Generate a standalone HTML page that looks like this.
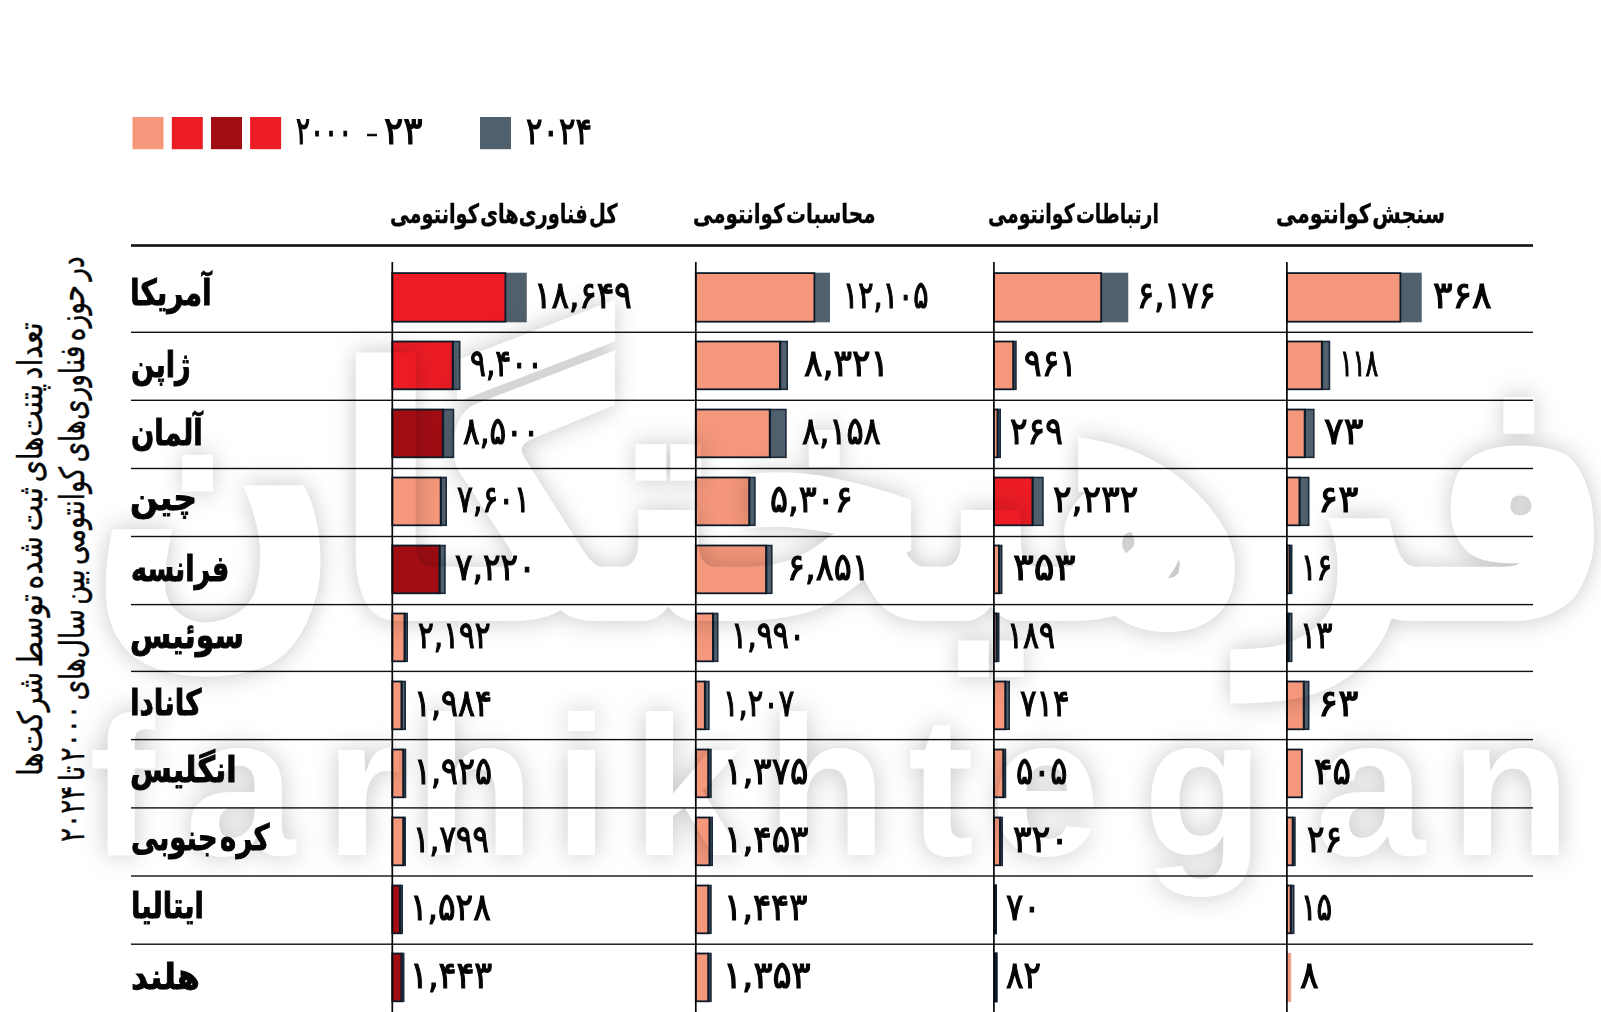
<!DOCTYPE html>
<html lang="fa"><head><meta charset="utf-8"><title>chart</title>
<style>
html,body{margin:0;padding:0;background:#fff}
body{width:1601px;height:1012px;position:relative;overflow:hidden;font-family:"DejaVu Sans",sans-serif;color:#000}
.t{position:absolute;white-space:nowrap;line-height:1;direction:rtl;unicode-bidi:isolate;transform-origin:0 0;color:#050505}
.b{font-weight:bold}
svg{position:absolute;left:0;top:0}
.nm{-webkit-text-stroke:0.032em #050505}
.lb{-webkit-text-stroke:0.026em #050505;word-spacing:-0.26em}
.hd{-webkit-text-stroke:0.0136em #050505;word-spacing:-0.28em}
.vt{-webkit-text-stroke:0.012em #050505;word-spacing:-0.15em}
.wm{color:#fff;-webkit-text-stroke:0.035em #fff;filter:url(#ko)}
.wl{position:absolute;left:0;top:0;font-family:"Liberation Sans",sans-serif;font-weight:bold}
</style></head><body>


<svg width="1601" height="1012" viewBox="0 0 1601 1012">
<rect x="132.5" y="117" width="31" height="32.2" fill="#F4977A"/>
<rect x="171.8" y="117" width="31" height="32.2" fill="#EC1C24"/>
<rect x="211" y="117" width="31" height="32.2" fill="#A10D13"/>
<rect x="250.1" y="117" width="31" height="32.2" fill="#EC1C24"/>
<rect x="480" y="117" width="31" height="32.2" fill="#51606D"/>
<rect x="131" y="244.2" width="1402" height="2.6" fill="#111"/>
<rect x="131" y="331.60" width="1402" height="1.4" fill="#111"/>
<rect x="131" y="399.60" width="1402" height="1.4" fill="#111"/>
<rect x="131" y="467.80" width="1402" height="1.4" fill="#111"/>
<rect x="131" y="535.80" width="1402" height="1.4" fill="#111"/>
<rect x="131" y="603.90" width="1402" height="1.4" fill="#111"/>
<rect x="131" y="670.70" width="1402" height="1.4" fill="#111"/>
<rect x="131" y="738.90" width="1402" height="1.4" fill="#111"/>
<rect x="131" y="807.20" width="1402" height="1.4" fill="#111"/>
<rect x="131" y="875.30" width="1402" height="1.4" fill="#111"/>
<rect x="131" y="943.50" width="1402" height="1.4" fill="#111"/>
<rect x="506.00" y="272.70" width="20.75" height="49.6" fill="#51606D"/>
<rect x="392.30" y="273.10" width="113.10" height="48.6" fill="#EC1C24" stroke="#0C1A28" stroke-width="1.8"/>
<rect x="453.25" y="341.50" width="6.45" height="47.8" fill="#51606D" stroke="#1B2A3A" stroke-width="1.6"/>
<rect x="392.30" y="341.50" width="60.35" height="47.8" fill="#EC1C24" stroke="#0C1A28" stroke-width="1.8"/>
<rect x="443.40" y="409.50" width="10.05" height="47.8" fill="#51606D" stroke="#1B2A3A" stroke-width="1.6"/>
<rect x="392.30" y="409.50" width="50.50" height="47.8" fill="#A10D13" stroke="#0C1A28" stroke-width="1.8"/>
<rect x="441.25" y="477.50" width="4.95" height="47.8" fill="#51606D" stroke="#1B2A3A" stroke-width="1.6"/>
<rect x="392.30" y="477.50" width="48.35" height="47.8" fill="#F4977A" stroke="#0C1A28" stroke-width="1.8"/>
<rect x="440.00" y="545.50" width="4.95" height="47.8" fill="#51606D" stroke="#1B2A3A" stroke-width="1.6"/>
<rect x="392.30" y="545.50" width="47.10" height="47.8" fill="#A10D13" stroke="#0C1A28" stroke-width="1.8"/>
<rect x="405.00" y="613.50" width="2.20" height="47.8" fill="#51606D" stroke="#1B2A3A" stroke-width="1.6"/>
<rect x="392.30" y="613.50" width="12.10" height="47.8" fill="#F4977A" stroke="#0C1A28" stroke-width="1.8"/>
<rect x="402.00" y="681.50" width="3.20" height="47.8" fill="#51606D" stroke="#1B2A3A" stroke-width="1.6"/>
<rect x="392.30" y="681.50" width="9.10" height="47.8" fill="#F4977A" stroke="#0C1A28" stroke-width="1.8"/>
<rect x="403.75" y="749.50" width="1.70" height="47.8" fill="#51606D" stroke="#1B2A3A" stroke-width="1.6"/>
<rect x="392.30" y="749.50" width="10.85" height="47.8" fill="#F4977A" stroke="#0C1A28" stroke-width="1.8"/>
<rect x="403.75" y="817.50" width="1.45" height="47.8" fill="#51606D" stroke="#1B2A3A" stroke-width="1.6"/>
<rect x="392.30" y="817.50" width="10.85" height="47.8" fill="#F4977A" stroke="#0C1A28" stroke-width="1.8"/>
<rect x="400.50" y="885.50" width="1.70" height="47.8" fill="#51606D" stroke="#1B2A3A" stroke-width="1.6"/>
<rect x="392.30" y="885.50" width="7.60" height="47.8" fill="#A10D13" stroke="#0C1A28" stroke-width="1.8"/>
<rect x="402.00" y="953.50" width="1.70" height="47.8" fill="#51606D" stroke="#1B2A3A" stroke-width="1.6"/>
<rect x="392.30" y="953.50" width="9.10" height="47.8" fill="#A10D13" stroke="#0C1A28" stroke-width="1.8"/>
<rect x="815.00" y="272.70" width="15.00" height="49.6" fill="#51606D"/>
<rect x="695.80" y="273.10" width="118.60" height="48.6" fill="#F4977A" stroke="#0C1A28" stroke-width="1.8"/>
<rect x="780.50" y="341.50" width="6.70" height="47.8" fill="#51606D" stroke="#1B2A3A" stroke-width="1.6"/>
<rect x="695.80" y="341.50" width="84.10" height="47.8" fill="#F4977A" stroke="#0C1A28" stroke-width="1.8"/>
<rect x="770.30" y="409.50" width="15.60" height="47.8" fill="#51606D" stroke="#1B2A3A" stroke-width="1.6"/>
<rect x="695.80" y="409.50" width="73.90" height="47.8" fill="#F4977A" stroke="#0C1A28" stroke-width="1.8"/>
<rect x="749.70" y="477.50" width="5.20" height="47.8" fill="#51606D" stroke="#1B2A3A" stroke-width="1.6"/>
<rect x="695.80" y="477.50" width="53.30" height="47.8" fill="#F4977A" stroke="#0C1A28" stroke-width="1.8"/>
<rect x="766.60" y="545.50" width="5.20" height="47.8" fill="#51606D" stroke="#1B2A3A" stroke-width="1.6"/>
<rect x="695.80" y="545.50" width="70.20" height="47.8" fill="#F4977A" stroke="#0C1A28" stroke-width="1.8"/>
<rect x="713.50" y="613.50" width="4.20" height="47.8" fill="#51606D" stroke="#1B2A3A" stroke-width="1.6"/>
<rect x="695.80" y="613.50" width="17.10" height="47.8" fill="#F4977A" stroke="#0C1A28" stroke-width="1.8"/>
<rect x="705.40" y="681.50" width="3.50" height="47.8" fill="#51606D" stroke="#1B2A3A" stroke-width="1.6"/>
<rect x="695.80" y="681.50" width="9.00" height="47.8" fill="#F4977A" stroke="#0C1A28" stroke-width="1.8"/>
<rect x="708.75" y="749.50" width="2.20" height="47.8" fill="#51606D" stroke="#1B2A3A" stroke-width="1.6"/>
<rect x="695.80" y="749.50" width="12.35" height="47.8" fill="#F4977A" stroke="#0C1A28" stroke-width="1.8"/>
<rect x="710.00" y="817.50" width="2.20" height="47.8" fill="#51606D" stroke="#1B2A3A" stroke-width="1.6"/>
<rect x="695.80" y="817.50" width="13.60" height="47.8" fill="#F4977A" stroke="#0C1A28" stroke-width="1.8"/>
<rect x="708.75" y="885.50" width="2.20" height="47.8" fill="#51606D" stroke="#1B2A3A" stroke-width="1.6"/>
<rect x="695.80" y="885.50" width="12.35" height="47.8" fill="#F4977A" stroke="#0C1A28" stroke-width="1.8"/>
<rect x="708.75" y="953.50" width="2.20" height="47.8" fill="#51606D" stroke="#1B2A3A" stroke-width="1.6"/>
<rect x="695.80" y="953.50" width="12.35" height="47.8" fill="#F4977A" stroke="#0C1A28" stroke-width="1.8"/>
<rect x="1101.75" y="272.70" width="26.50" height="49.6" fill="#51606D"/>
<rect x="993.90" y="273.10" width="107.25" height="48.6" fill="#F4977A" stroke="#0C1A28" stroke-width="1.8"/>
<rect x="1013.75" y="341.50" width="2.20" height="47.8" fill="#51606D" stroke="#1B2A3A" stroke-width="1.6"/>
<rect x="993.90" y="341.50" width="19.25" height="47.8" fill="#F4977A" stroke="#0C1A28" stroke-width="1.8"/>
<rect x="998.00" y="409.50" width="2.20" height="47.8" fill="#51606D" stroke="#1B2A3A" stroke-width="1.6"/>
<rect x="993.90" y="409.50" width="3.50" height="47.8" fill="#F4977A" stroke="#0C1A28" stroke-width="1.8"/>
<rect x="1033.00" y="477.50" width="9.95" height="47.8" fill="#51606D" stroke="#1B2A3A" stroke-width="1.6"/>
<rect x="993.90" y="477.50" width="38.50" height="47.8" fill="#EC1C24" stroke="#0C1A28" stroke-width="1.8"/>
<rect x="999.50" y="545.50" width="2.20" height="47.8" fill="#51606D" stroke="#1B2A3A" stroke-width="1.6"/>
<rect x="993.90" y="545.50" width="5.00" height="47.8" fill="#F4977A" stroke="#0C1A28" stroke-width="1.8"/>
<rect x="997.00" y="613.50" width="1.70" height="47.8" fill="#51606D" stroke="#1B2A3A" stroke-width="1.6"/>
<rect x="993.90" y="613.50" width="2.50" height="47.8" fill="#F4977A" stroke="#0C1A28" stroke-width="1.8"/>
<rect x="1005.75" y="681.50" width="3.45" height="47.8" fill="#51606D" stroke="#1B2A3A" stroke-width="1.6"/>
<rect x="993.90" y="681.50" width="11.25" height="47.8" fill="#F4977A" stroke="#0C1A28" stroke-width="1.8"/>
<rect x="1003.75" y="749.50" width="1.70" height="47.8" fill="#51606D" stroke="#1B2A3A" stroke-width="1.6"/>
<rect x="993.90" y="749.50" width="9.25" height="47.8" fill="#F4977A" stroke="#0C1A28" stroke-width="1.8"/>
<rect x="1000.50" y="817.50" width="1.70" height="47.8" fill="#51606D" stroke="#1B2A3A" stroke-width="1.6"/>
<rect x="993.90" y="817.50" width="6.00" height="47.8" fill="#F4977A" stroke="#0C1A28" stroke-width="1.8"/>
<rect x="995.50" y="885.50" width="0.70" height="47.8" fill="#51606D" stroke="#1B2A3A" stroke-width="1.6"/>
<rect x="993.90" y="884.40" width="3.10" height="50" fill="#0C1A28"/>
<rect x="995.50" y="953.50" width="1.20" height="47.8" fill="#51606D" stroke="#1B2A3A" stroke-width="1.6"/>
<rect x="993.90" y="952.40" width="3.60" height="50" fill="#0C1A28"/>
<rect x="1401.00" y="272.70" width="20.75" height="49.6" fill="#51606D"/>
<rect x="1286.90" y="273.10" width="113.50" height="48.6" fill="#F4977A" stroke="#0C1A28" stroke-width="1.8"/>
<rect x="1322.40" y="341.50" width="7.05" height="47.8" fill="#51606D" stroke="#1B2A3A" stroke-width="1.6"/>
<rect x="1286.90" y="341.50" width="34.90" height="47.8" fill="#F4977A" stroke="#0C1A28" stroke-width="1.8"/>
<rect x="1305.25" y="409.50" width="8.55" height="47.8" fill="#51606D" stroke="#1B2A3A" stroke-width="1.6"/>
<rect x="1286.90" y="409.50" width="17.75" height="47.8" fill="#F4977A" stroke="#0C1A28" stroke-width="1.8"/>
<rect x="1300.00" y="477.50" width="8.70" height="47.8" fill="#51606D" stroke="#1B2A3A" stroke-width="1.6"/>
<rect x="1286.90" y="477.50" width="12.50" height="47.8" fill="#F4977A" stroke="#0C1A28" stroke-width="1.8"/>
<rect x="1290.00" y="545.50" width="1.70" height="47.8" fill="#51606D" stroke="#1B2A3A" stroke-width="1.6"/>
<rect x="1286.90" y="545.50" width="2.50" height="47.8" fill="#F4977A" stroke="#0C1A28" stroke-width="1.8"/>
<rect x="1289.00" y="613.50" width="2.70" height="47.8" fill="#51606D" stroke="#1B2A3A" stroke-width="1.6"/>
<rect x="1286.90" y="613.50" width="1.50" height="47.8" fill="#F4977A" stroke="#0C1A28" stroke-width="1.8"/>
<rect x="1304.25" y="681.50" width="4.45" height="47.8" fill="#51606D" stroke="#1B2A3A" stroke-width="1.6"/>
<rect x="1286.90" y="681.50" width="16.75" height="47.8" fill="#F4977A" stroke="#0C1A28" stroke-width="1.8"/>
<rect x="1286.90" y="749.50" width="15.00" height="47.8" fill="#F4977A" stroke="#0C1A28" stroke-width="1.8"/>
<rect x="1293.25" y="817.50" width="1.70" height="47.8" fill="#51606D" stroke="#1B2A3A" stroke-width="1.6"/>
<rect x="1286.90" y="817.50" width="5.75" height="47.8" fill="#F4977A" stroke="#0C1A28" stroke-width="1.8"/>
<rect x="1291.25" y="885.50" width="2.45" height="47.8" fill="#51606D" stroke="#1B2A3A" stroke-width="1.6"/>
<rect x="1286.90" y="885.50" width="3.75" height="47.8" fill="#F4977A" stroke="#0C1A28" stroke-width="1.8"/>
<rect x="1286.90" y="953.40" width="3.85" height="48" fill="#F4977A" stroke="#E8A090" stroke-width="1"/>
<rect x="391.45" y="262" width="1.7" height="750" fill="#04070B"/>
<rect x="694.95" y="262" width="1.7" height="750" fill="#04070B"/>
<rect x="993.05" y="262" width="1.7" height="750" fill="#04070B"/>
<rect x="1286.05" y="262" width="1.7" height="750" fill="#04070B"/>
</svg>
<span class="t b hd" style="left:389.84px;top:201.12px;font-size:26.50px;transform:scaleX(0.7312)">کل فناوری‌های کوانتومی</span>
<span class="t b hd" style="left:692.55px;top:201.12px;font-size:26.50px;transform:scaleX(0.7530)">محاسبات کوانتومی</span>
<span class="t b hd" style="left:987.62px;top:201.12px;font-size:26.50px;transform:scaleX(0.7118)">ارتباطات کوانتومی</span>
<span class="t b hd" style="left:1276.01px;top:201.12px;font-size:26.50px;transform:scaleX(0.7793)">سنجش کوانتومی</span>
<span class="t b lb" style="left:129.94px;top:274.68px;font-size:36.00px;transform:scaleX(0.7774)">آمریکا</span>
<span class="t b lb" style="left:130.54px;top:347.08px;font-size:36.00px;transform:scaleX(0.7562)">ژاپن</span>
<span class="t b lb" style="left:130.53px;top:415.08px;font-size:36.00px;transform:scaleX(0.7596)">آلمان</span>
<span class="t b lb" style="left:130.25px;top:480.08px;font-size:36.00px;transform:scaleX(0.9181)">چین</span>
<span class="t b lb" style="left:130.54px;top:551.08px;font-size:36.00px;transform:scaleX(0.7532)">فرانسه</span>
<span class="t b lb" style="left:130.41px;top:617.98px;font-size:36.00px;transform:scaleX(0.8303)">سوئیس</span>
<span class="t b lb" style="left:129.95px;top:684.58px;font-size:36.00px;transform:scaleX(0.7747)">کانادا</span>
<span class="t b lb" style="left:130.39px;top:751.58px;font-size:36.00px;transform:scaleX(0.8399)">انگلیس</span>
<span class="t b lb" style="left:130.52px;top:819.58px;font-size:36.00px;transform:scaleX(0.7660)">کره جنوبی</span>
<span class="t b lb" style="left:130.88px;top:887.58px;font-size:36.00px;transform:scaleX(0.7606)">ایتالیا</span>
<span class="t b lb" style="left:131.15px;top:958.58px;font-size:36.00px;transform:scaleX(0.9157)">هلند</span>
<span class="t nm" style="left:295.98px;top:112.42px;font-size:38.33px;transform:scaleX(0.6826)">۲۰۰۰</span>
<span class="t nm" style="left:366.00px;top:121.64px;font-size:23.00px;transform:scaleX(1.4493)">-</span>
<span class="t nm" style="left:383.98px;top:112.42px;font-size:38.33px;transform:scaleX(0.9356)">۲۳</span>
<span class="t nm" style="left:526.38px;top:112.90px;font-size:37.76px;transform:scaleX(0.8148)">۲۰۲۴</span>
<span class="t vt" style="left:13.63px;top:776.05px;font-size:33.82px;transform:rotate(-90deg) scaleX(0.8366)">تعداد پتنت‌های ثبت شده توسط شرکت‌ها</span>
<span class="t vt" style="left:54.60px;top:842.09px;font-size:34.31px;transform:rotate(-90deg) scaleX(0.7658)">در حوزه فناوری‌های کوانتومی بین سال‌های ۲۰۰۰ تا ۲۰۲۴</span>
<span class="t nm" style="left:533.92px;top:277.30px;font-size:37.88px;transform:scaleX(0.8601)">۱۸,۶۴۹</span>
<span class="t nm" style="left:470.36px;top:345.40px;font-size:37.88px;transform:scaleX(0.7808)">۹,۴۰۰</span>
<span class="t nm" style="left:463.44px;top:413.40px;font-size:37.88px;transform:scaleX(0.8177)">۸,۵۰۰</span>
<span class="t nm" style="left:457.20px;top:481.40px;font-size:37.88px;transform:scaleX(0.7816)">۷,۶۰۱</span>
<span class="t nm" style="left:454.67px;top:549.40px;font-size:37.88px;transform:scaleX(0.8644)">۷,۲۲۰</span>
<span class="t nm" style="left:418.16px;top:617.40px;font-size:37.88px;transform:scaleX(0.7773)">۲,۱۹۲</span>
<span class="t nm" style="left:413.52px;top:685.40px;font-size:37.88px;transform:scaleX(0.8343)">۱,۹۸۴</span>
<span class="t nm" style="left:414.02px;top:753.40px;font-size:37.88px;transform:scaleX(0.8364)">۱,۹۲۵</span>
<span class="t nm" style="left:412.60px;top:821.40px;font-size:37.88px;transform:scaleX(0.8158)">۱,۷۹۹</span>
<span class="t nm" style="left:410.15px;top:889.40px;font-size:37.88px;transform:scaleX(0.8650)">۱,۵۲۸</span>
<span class="t nm" style="left:410.08px;top:957.40px;font-size:37.88px;transform:scaleX(0.8800)">۱,۴۴۳</span>
<span class="t nm" style="left:842.87px;top:277.30px;font-size:37.88px;transform:scaleX(0.7523)">۱۲,۱۰۵</span>
<span class="t nm" style="left:803.66px;top:345.40px;font-size:37.88px;transform:scaleX(0.9089)">۸,۳۲۱</span>
<span class="t nm" style="left:801.98px;top:413.40px;font-size:37.88px;transform:scaleX(0.8426)">۸,۱۵۸</span>
<span class="t nm" style="left:770.36px;top:481.40px;font-size:37.88px;transform:scaleX(0.8852)">۵,۳۰۶</span>
<span class="t nm" style="left:786.82px;top:549.40px;font-size:37.88px;transform:scaleX(0.8852)">۶,۸۵۱</span>
<span class="t nm" style="left:730.69px;top:617.40px;font-size:37.88px;transform:scaleX(0.7932)">۱,۹۹۰</span>
<span class="t nm" style="left:722.52px;top:685.40px;font-size:37.88px;transform:scaleX(0.7628)">۱,۲۰۷</span>
<span class="t nm" style="left:723.73px;top:753.40px;font-size:37.88px;transform:scaleX(0.9047)">۱,۳۷۵</span>
<span class="t nm" style="left:724.03px;top:821.40px;font-size:37.88px;transform:scaleX(0.9048)">۱,۴۵۳</span>
<span class="t nm" style="left:724.08px;top:889.40px;font-size:37.88px;transform:scaleX(0.8924)">۱,۴۴۳</span>
<span class="t nm" style="left:723.19px;top:957.40px;font-size:37.88px;transform:scaleX(0.9387)">۱,۳۵۳</span>
<span class="t nm" style="left:1137.45px;top:277.30px;font-size:37.88px;transform:scaleX(0.8429)">۶,۱۷۶</span>
<span class="t nm" style="left:1024.01px;top:345.40px;font-size:37.88px;transform:scaleX(0.8674)">۹۶۱</span>
<span class="t nm" style="left:1010.34px;top:413.40px;font-size:37.88px;transform:scaleX(0.8660)">۲۶۹</span>
<span class="t nm" style="left:1053.06px;top:481.40px;font-size:37.88px;transform:scaleX(0.9136)">۲,۲۳۲</span>
<span class="t nm" style="left:1012.97px;top:549.40px;font-size:37.88px;transform:scaleX(1.0234)">۳۵۳</span>
<span class="t nm" style="left:1006.71px;top:617.40px;font-size:37.88px;transform:scaleX(0.7893)">۱۸۹</span>
<span class="t nm" style="left:1019.69px;top:685.40px;font-size:37.88px;transform:scaleX(0.8090)">۷۱۴</span>
<span class="t nm" style="left:1015.72px;top:753.40px;font-size:37.88px;transform:scaleX(0.8443)">۵۰۵</span>
<span class="t nm" style="left:1013.06px;top:821.40px;font-size:37.88px;transform:scaleX(0.9164)">۳۲۰</span>
<span class="t nm" style="left:1005.93px;top:889.40px;font-size:37.88px;transform:scaleX(0.8497)">۷۰</span>
<span class="t nm" style="left:1005.93px;top:957.40px;font-size:37.88px;transform:scaleX(0.8567)">۸۲</span>
<span class="t nm" style="left:1432.77px;top:277.30px;font-size:37.88px;transform:scaleX(0.9608)">۳۶۸</span>
<span class="t nm" style="left:1340.15px;top:345.40px;font-size:37.88px;transform:scaleX(0.6246)">۱۱۸</span>
<span class="t nm" style="left:1323.63px;top:413.40px;font-size:37.88px;transform:scaleX(0.9680)">۷۳</span>
<span class="t nm" style="left:1318.25px;top:481.40px;font-size:37.88px;transform:scaleX(0.9900)">۶۳</span>
<span class="t nm" style="left:1301.07px;top:549.40px;font-size:37.88px;transform:scaleX(0.7638)">۱۶</span>
<span class="t nm" style="left:1300.42px;top:617.40px;font-size:37.88px;transform:scaleX(0.7989)">۱۳</span>
<span class="t nm" style="left:1318.25px;top:685.40px;font-size:37.88px;transform:scaleX(0.9900)">۶۳</span>
<span class="t nm" style="left:1314.31px;top:753.40px;font-size:37.88px;transform:scaleX(0.9059)">۴۵</span>
<span class="t nm" style="left:1307.35px;top:821.40px;font-size:37.88px;transform:scaleX(0.8620)">۲۶</span>
<span class="t nm" style="left:1301.06px;top:889.40px;font-size:37.88px;transform:scaleX(0.7665)">۱۵</span>
<span class="t nm" style="left:1300.40px;top:957.40px;font-size:37.88px;transform:scaleX(0.9138)">۸</span>

<svg class="wl" width="1601" height="1012" viewBox="0 0 1601 1012">
<defs><filter id="ko" x="-5%" y="-15%" width="110%" height="130%" color-interpolation-filters="sRGB"><feGaussianBlur in="SourceAlpha" stdDeviation="13" result="b"/><feComposite in="b" in2="SourceAlpha" operator="out" result="o"/><feColorMatrix in="o" type="matrix" values="0 0 0 0 0  0 0 0 0 0  0 0 0 0 0  0 0 0 0.22 0"/></filter></defs>
<text filter="url(#ko)" fill="#fff" font-family="Liberation Sans, sans-serif" font-weight="bold" font-size="198" y="855" x="89 185 325 414 554 632 766 908 990 1143 1315 1450">farhikhtegan</text>
</svg>
<span class="t b wm" style="left:92.58px;top:330.40px;font-size:337.82px;transform:scaleX(0.8454)">فرهیختگان</span>
</body></html>
